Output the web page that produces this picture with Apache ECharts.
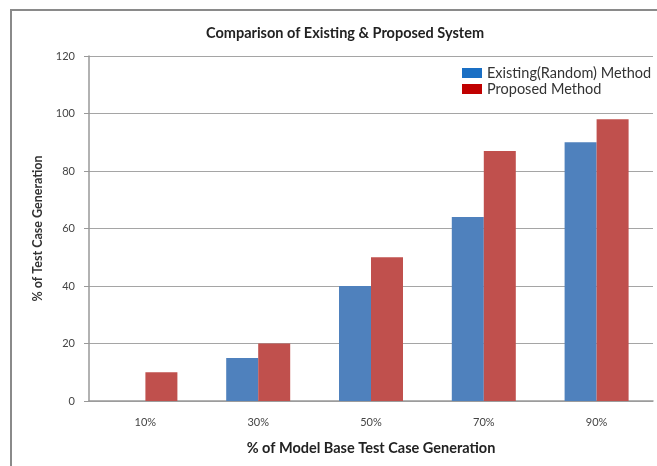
<!DOCTYPE html>
<html>
<head>
<meta charset="utf-8">
<script src="https://cdn.jsdelivr.net/npm/echarts@6/dist/echarts.min.js"></script>
<style>
  html, body { margin: 0; padding: 0; background: #fff; }
  #chart { width: 657px; height: 466px; }
</style>
</head>
<body>
<div id="chart"></div>
<script>
const categories = ['10%', '30%', '50%', '70%', '90%'];
const existingValues = [0, 15, 40, 64, 90];
const proposedValues = [10, 20, 50, 87, 98];
const yTicks = [0, 20, 40, 60, 80, 100, 120];

const chart = echarts.init(document.getElementById('chart'));
const font = 'Lato, "Open Sans", sans-serif';

const option = {
  backgroundColor: '#fff',
  animation: false,
  textStyle: { fontFamily: font },
  graphic: [
    {
      type: 'rect',
      shape: { x: 11, y: 10, width: 700, height: 500 },
      style: { fill: 'none', stroke: '#8a8a8a', lineWidth: 2 },
      z: -1
    }
  ],
  title: {
    text: 'Comparison of Existing & Proposed System',
    left: 340,
    textAlign: 'center',
    top: 21,
    textStyle: { fontSize: 14.5, fontWeight: 'bold', color: '#222', fontFamily: font }
  },
  legend: {
    orient: 'vertical',
    left: 462,
    top: 65,
    padding: 0,
    itemWidth: 20,
    itemHeight: 10,
    itemGap: 0,
    icon: 'rect',
    textStyle: { fontSize: 14.5, lineHeight: 16, color: '#333', fontFamily: font },
    data: [
      { name: 'Existing(Random) Method', itemStyle: { color: '#1a6fc4' } },
      { name: 'Proposed Method', itemStyle: { color: '#c00000' } }
    ]
  },
  grid: { left: 89, right: 4, top: 56, bottom: 65 },
  xAxis: {
    type: 'category',
    data: categories,
    name: '% of Model Base Test Case Generation',
    nameLocation: 'middle',
    nameGap: 40,
    nameTextStyle: { fontSize: 14.5, fontWeight: 'bold', color: '#222', fontFamily: font },
    axisLine: { lineStyle: { color: '#999', width: 1.5 } },
    axisTick: { show: false },
    axisLabel: { fontSize: 11, color: '#444', margin: 16 }
  },
  yAxis: {
    type: 'value',
    min: yTicks[0],
    max: yTicks[yTicks.length - 1],
    interval: 20,
    name: '% of Test Case Generation',
    nameLocation: 'middle',
    nameGap: 43,
    nameTextStyle: { fontSize: 12.5, fontWeight: 'bold', color: '#333', fontFamily: font },
    axisLine: { show: true, lineStyle: { color: '#999', width: 1.5 } },
    axisTick: { show: true, length: 5, lineStyle: { color: '#999' } },
    axisLabel: { fontSize: 11, color: '#444', margin: 14 },
    splitLine: { lineStyle: { color: '#a5a5a5', width: 1 } }
  },
  series: [
    {
      name: 'Existing(Random) Method',
      type: 'bar',
      data: existingValues,
      barWidth: 32,
      barGap: '0%',
      itemStyle: { color: '#4f81bd' }
    },
    {
      name: 'Proposed Method',
      type: 'bar',
      data: proposedValues,
      barWidth: 32,
      barGap: '0%',
      itemStyle: { color: '#c0504d' }
    }
  ]
};

chart.setOption(option);
</script>
</body>
</html>
